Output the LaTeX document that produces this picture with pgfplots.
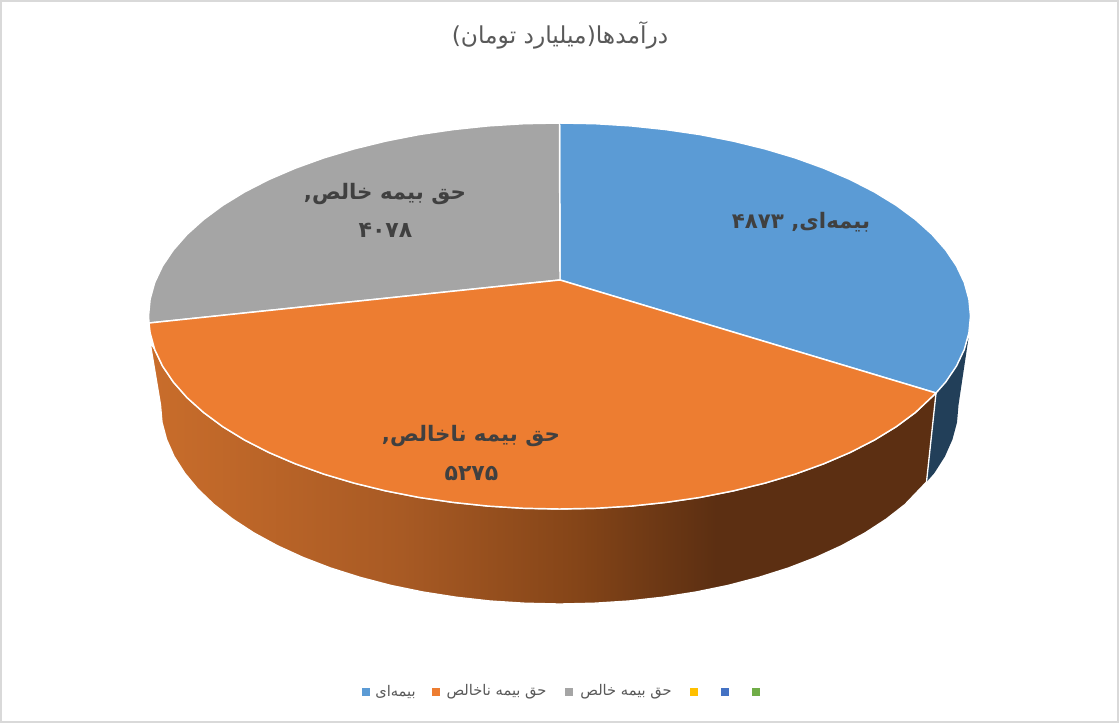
\documentclass[border=0pt]{standalone}
\usepackage{pgfplots}
\usepackage{fontspec}
\pgfplotsset{compat=1.18}
\TeXXeTstate=1
\setmainfont{DejaVu Sans}
\newfontfamily\arabicfont[Script=Arabic]{DejaVu Sans}
\definecolor{blueT}{HTML}{5B9BD5}
\definecolor{orangeT}{HTML}{ED7D31}
\definecolor{greyT}{HTML}{A5A5A5}
\definecolor{blueS}{HTML}{223F59}
\definecolor{labelc}{HTML}{404040}
\definecolor{legc}{HTML}{595959}
\definecolor{sa}{HTML}{C96D2B}
\definecolor{sb}{HTML}{A85A24}
\definecolor{sc}{HTML}{854518}
\definecolor{sd}{HTML}{5C2F12}
\pgfdeclarehorizontalshading{sidegrad}{100bp}{
 color(0bp)=(sa); color(25bp)=(sa); color(41bp)=(sb); color(52bp)=(sc); color(61bp)=(sd); color(75bp)=(sd); color(100bp)=(sd)}
\pgfplotstableread{
x y
560 280
559.5 123
595.3 123.7
630.9 125.9
665.9 129.6
700.1 134.6
733.2 141.1
765 148.9
795.2 157.9
823.7 168.2
850.1 179.5
874.3 191.9
896.2 205.3
915.4 219.5
932 234.4
945.7 250
956.5 266
964.3 282.5
968.9 299.2
970.5 316
968.9 332.8
964.3 349.5
956.5 366
945.7 382
936 393
}\blueslice
\pgfplotstableread{
x y
560 280
936 393
915.4 412.5
896.2 426.7
874.3 440.1
850.1 452.5
823.7 463.8
795.2 474.1
765 483.1
733.2 490.9
700.1 497.4
665.9 502.4
630.9 506.1
595.3 508.3
559.5 509
523.7 508.3
488.1 506.1
453.1 502.4
418.9 497.4
385.8 490.9
354 483.1
323.8 474.1
295.3 463.8
268.9 452.5
244.7 440.1
222.8 426.7
203.6 412.5
187 397.6
173.3 382
162.5 366
154.7 349.5
150.1 332.8
149 323
}\orangeslice
\pgfplotstableread{
x y
560 280
149 323
148.5 316
150.1 299.2
154.7 282.5
162.5 266
173.3 250
187 234.4
203.6 219.5
222.8 205.3
244.7 191.9
268.9 179.5
295.3 168.2
323.8 157.9
354 148.9
385.8 141.1
418.9 134.6
453.1 129.6
488.1 125.9
523.7 123.7
559.5 123
}\greyslice
\pgfplotstableread{
x y
936 393
926.5 482
905 504.5
886.3 519.1
865.1 532.9
841.6 545.7
816 557.4
788.4 568
759 577.3
728.1 585.4
696 592
662.8 597.2
628.8 601
594.3 603.2
559.5 604
524.7 603.2
490.2 601
456.2 597.2
423 592
390.9 585.4
360 577.3
330.6 568
303 557.4
277.4 545.7
253.9 532.9
232.7 519.1
214 504.5
197.9 489.1
184.6 473
174.1 456.5
166.6 439.6
162 422.4
160.5 405
150 342
154.7 349.5
162.5 366
173.3 382
187 397.6
203.6 412.5
222.8 426.7
244.7 440.1
268.9 452.5
295.3 463.8
323.8 474.1
354 483.1
385.8 490.9
418.9 497.4
453.1 502.4
488.1 506.1
523.7 508.3
559.5 509
595.3 508.3
630.9 506.1
665.9 502.4
700.1 497.4
733.2 490.9
765 483.1
795.2 474.1
823.7 463.8
850.1 452.5
874.3 440.1
896.2 426.7
915.4 412.5
}\orangeside
\pgfplotstableread{
x y
968.5 338
958.5 405
957 422.4
952.4 439.6
944.9 456.5
934.4 473
926.5 482
936 393
945.7 382
956.5 366
964.3 349.5
}\blueside
\begin{document}
\begin{tikzpicture}
\begin{axis}[
 scale only axis,
 width=839.25pt, height=542.25pt,
 xmin=0, xmax=1119, ymin=0, ymax=723,
 y dir=reverse,
 hide axis,
 clip=false,
]
% chart frame
\addplot[draw=black!15, line width=1.5pt, no marks] coordinates {(1,1) (1118,1) (1118,722) (1,722)} -- cycle;
% sides
\addplot[draw=none, fill=blueS, no marks] table {\blueside} -- cycle;
\addplot[draw=white, line width=1pt, shade, shading=sidegrad, no marks] table {\orangeside} -- cycle;
% top
\addplot[draw=white, line width=1.1pt, fill=blueT, no marks, line join=round] table {\blueslice} -- cycle;
\addplot[draw=white, line width=1.1pt, fill=greyT, no marks, line join=round] table {\greyslice} -- cycle;
\addplot[draw=white, line width=1.1pt, fill=orangeT, no marks, line join=round] table {\orangeslice} -- cycle;
% legend marks
\addplot[only marks, mark=square*, mark size=2.6pt, color=blueT] coordinates {(365.7,691.7)};
\addplot[only marks, mark=square*, mark size=2.6pt, color=orangeT] coordinates {(436,691.7)};
\addplot[only marks, mark=square*, mark size=2.6pt, color=greyT] coordinates {(569,691.7)};
\addplot[only marks, mark=square*, mark size=2.6pt, color={rgb,255:red,255;green,192;blue,0}] coordinates {(693.7,691.7)};
\addplot[only marks, mark=square*, mark size=2.6pt, color={rgb,255:red,68;green,114;blue,196}] coordinates {(724.7,691.7)};
\addplot[only marks, mark=square*, mark size=2.6pt, color={rgb,255:red,112;green,173;blue,71}] coordinates {(755.3,691.7)};
% texts
\node[text=legc, font=\arabicfont\fontsize{17.5}{20}\selectfont] at (axis cs:560,35) {\beginR درآمدها(میلیارد تومان)\endR};
\node[text=legc, font=\arabicfont\fontsize{11}{13}\selectfont] at (axis cs:395.5,691.5) {\beginR بیمه‌ای\endR};
\node[text=legc, font=\arabicfont\fontsize{11}{13}\selectfont] at (axis cs:496.5,691.5) {\beginR حق بیمه ناخالص\endR};
\node[text=legc, font=\arabicfont\fontsize{11}{13}\selectfont] at (axis cs:626,691.5) {\beginR حق بیمه خالص\endR};
\node[text=labelc, font=\arabicfont\bfseries\fontsize{16}{18}\selectfont] at (axis cs:801,222) {\beginR بیمه‌ای, \beginL ۴۸۷۳\endL{}\endR};
\node[text=labelc, font=\arabicfont\bfseries\fontsize{16}{18}\selectfont] at (axis cs:385,194.5) {\beginR حق بیمه خالص,\endR};
\node[text=labelc, font=\arabicfont\bfseries\fontsize{16.5}{18}\selectfont] at (axis cs:385.5,230.5) {\beginL ۴۰۷۸\endL};
\node[text=labelc, font=\arabicfont\bfseries\fontsize{16}{18}\selectfont] at (axis cs:471,436.5) {\beginR حق بیمه ناخالص,\endR};
\node[text=labelc, font=\arabicfont\bfseries\fontsize{16.5}{18}\selectfont] at (axis cs:471.5,473.5) {\beginL ۵۲۷۵\endL};
\end{axis}
\end{tikzpicture}
\end{document}
